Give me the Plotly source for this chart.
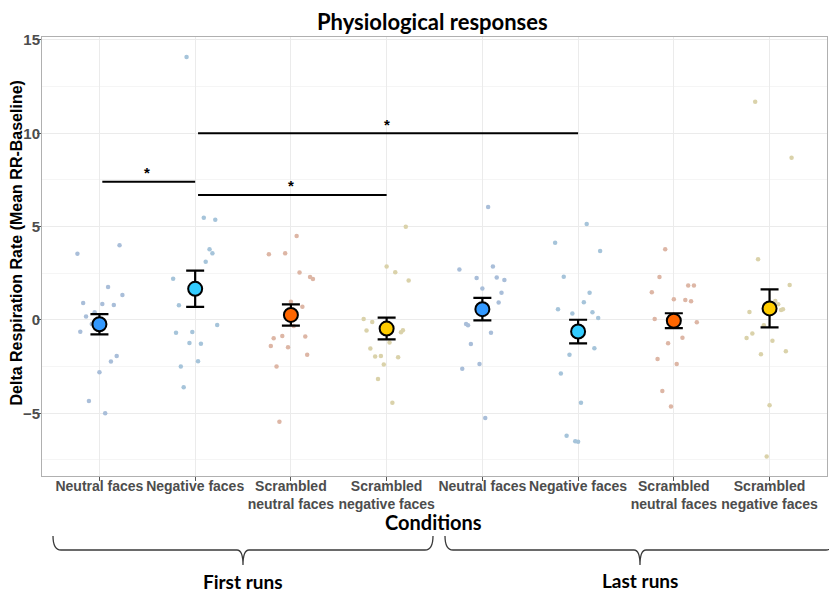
import plotly.graph_objects as go

# ---------------- data ----------------
cond_labels = ["Neutral faces", "Negative faces", "Scrambled<br>neutral faces", "Scrambled<br>negative faces",
               "Neutral faces", "Negative faces", "Scrambled<br>neutral faces", "Scrambled<br>negative faces"]
cond_pos = [1, 2, 3, 4, 5, 6, 7, 8]

mean_vals = [-0.23, 1.67, 0.27, -0.46, 0.58, -0.62, -0.04, 0.62]
sem_vals = [0.54, 0.97, 0.57, 0.58, 0.60, 0.63, 0.40, 1.02]

# individual participants (value, jitter offset)
first_neutral = [3.55, 4.0, 1.77, 0.91, 0.86, 0.80, 1.34, 0.18, 0.41, -0.21, -0.63, -1.93, -2.23, -2.80, -4.34, -5.0]
first_neutral_jit = [-0.23, 0.21, 0.09, -0.17, 0.03, 0.15, 0.24, -0.14, -0.05, -0.08, -0.20, 0.18, 0.12, 0.0, -0.11, 0.06]

first_negative = [14.09, 5.48, 5.37, 3.79, 3.57, 3.12, 2.21, 0.79, -0.27, -0.68, -0.64, -1.23, -1.27, -2.21, -2.50, -3.61]
first_negative_jit = [-0.09, 0.09, 0.21, 0.15, 0.18, 0.11, -0.23, -0.17, 0.23, -0.20, -0.03, -0.06, 0.06, 0.03, -0.15, -0.12]

first_scr_neutral = [4.50, 3.52, 3.57, 2.54, 2.30, 2.20, 0.98, 0.71, -0.32, -0.86, -0.98, -0.89, -1.39, -1.46, -1.87, -2.50, -5.46]
first_scr_neutral_jit = [0.06, -0.23, -0.06, 0.09, 0.20, 0.23, 0.0, 0.12, 0.03, -0.09, -0.18, 0.15, -0.21, -0.03, 0.17, -0.15, -0.12]

first_scr_negative = [5.0, 2.86, 2.55, 2.11, 0.05, -0.11, -0.57, -0.66, -0.55, -1.21, -1.53, -1.96, -1.93, -2.0, -2.38, -3.16, -4.43]
first_scr_negative_jit = [0.20, 0.0, 0.09, 0.23, -0.24, -0.15, -0.21, 0.15, 0.17, 0.03, -0.17, -0.12, -0.06, 0.12, -0.03, -0.09, 0.06]

last_neutral = [6.05, 2.71, 2.87, 2.25, 2.27, 2.14, 1.68, 1.46, 0.93, -0.21, -0.29, -0.68, -1.29, -2.36, -2.61, -5.25]
last_neutral_jit = [0.06, -0.24, 0.11, -0.06, 0.15, 0.23, 0.0, 0.20, 0.17, -0.17, -0.15, 0.09, -0.12, -0.03, -0.21, 0.03]

last_negative = [5.14, 4.14, 3.70, 2.32, 1.46, 0.95, 0.57, 0.34, 0.41, 0.11, -1.52, -1.87, -2.87, -4.43, -6.21, -6.50, -6.52]
last_negative_jit = [0.09, -0.24, 0.23, -0.15, 0.12, 0.06, -0.21, -0.06, 0.15, 0.21, 0.17, -0.09, -0.18, 0.03, -0.12, -0.03, 0.0]

last_scr_neutral = [3.79, 2.30, 1.48, 1.84, 1.84, 1.11, 1.07, 1.0, 0.05, -0.12, -0.95, -1.25, -2.09, -2.36, -3.80, -4.64]
last_scr_neutral_jit = [-0.09, -0.15, -0.23, 0.15, 0.21, 0.0, 0.12, 0.18, -0.20, 0.24, 0.09, -0.06, -0.17, 0.03, -0.12, -0.03]

last_scr_negative = [11.69, 8.69, 3.25, 1.87, 1.02, 0.84, 0.54, 0.57, 0.43, -0.29, -0.73, -0.96, -1.12, -1.84, -1.68, -4.57, -7.32]
last_scr_negative_jit = [-0.15, 0.23, -0.12, 0.21, 0.06, 0.09, 0.12, 0.14, -0.21, -0.06, -0.18, -0.24, 0.03, -0.09, 0.17, 0.0, -0.03]

# significance comparisons (category positions and bracket height)
sig_start = [1, 2, 2]
sig_end = [2, 6, 4]
sig_height = [7.4, 10.0, 6.7]

y_ticks = [-5, 0, 5, 10, 15]

# ---------------- styling ----------------
mean_colors = ["#3399FF", "#33CCFF", "#FF6600", "#FFCC00"] * 2
point_colors = ["#A9BED9", "#A6C4DA", "#DDB6A5", "#DAD2AA"] * 2

all_vals = [first_neutral, first_negative, first_scr_neutral, first_scr_negative,
            last_neutral, last_negative, last_scr_neutral, last_scr_negative]
all_jit = [first_neutral_jit, first_negative_jit, first_scr_neutral_jit, first_scr_negative_jit,
           last_neutral_jit, last_negative_jit, last_scr_neutral_jit, last_scr_negative_jit]

# the page has an 8px body margin: lay the figure out so page coordinates match
OX, OY = 8, 8
PAGE_W, PAGE_H = 837, 593
W, H = PAGE_W - OX, PAGE_H - OY
PL, PR, PT, PB = 42, 827, 37, 476   # panel in page pixels


def pxx(x):
    return (x - PL) / (PR - PL)


def pxy(y):
    return (PB - y) / (PB - PT)


fig = go.Figure()

for i, (vals, jit) in enumerate(zip(all_vals, all_jit)):
    fig.add_trace(go.Scatter(
        x=[cond_pos[i] + j for j in jit], y=vals, mode="markers",
        marker=dict(size=4.5, color=point_colors[i], line=dict(width=0)),
        showlegend=False, hoverinfo="y"))

fig.add_trace(go.Scatter(
    x=cond_pos, y=mean_vals, mode="markers",
    error_y=dict(type="data", array=sem_vals, color="black", thickness=2.2, width=9),
    marker=dict(size=14, color=mean_colors, line=dict(color="black", width=2)),
    showlegend=False))

shapes = []
annotations = []
for s, e, h in zip(sig_start, sig_end, sig_height):
    shapes.append(dict(type="line", xref="x", yref="y", x0=s + 0.03, x1=e, y0=h, y1=h,
                       line=dict(color="black", width=2)))
    annotations.append(dict(x=(s + e) / 2, y=h, xref="x", yref="y", text="*", showarrow=False,
                            yshift=9, font=dict(family="Liberation Sans, Arial", size=15, color="black", weight="bold")))


def brace_path(x0, x1, xm, ytop, ymid, ytip):
    r = 8
    return (f"M {pxx(x0)},{pxy(ytop)} Q {pxx(x0)},{pxy(ymid)} {pxx(x0 + r)},{pxy(ymid)} "
            f"L {pxx(xm - 6)},{pxy(ymid)} Q {pxx(xm)},{pxy(ymid)} {pxx(xm)},{pxy(ytip)} "
            f"Q {pxx(xm)},{pxy(ymid)} {pxx(xm + 6)},{pxy(ymid)} "
            f"L {pxx(x1 - r)},{pxy(ymid)} Q {pxx(x1)},{pxy(ymid)} {pxx(x1)},{pxy(ytop)}")


for x0, x1, xm in [(53, 433, 243), (445, 834, 640)]:
    shapes.append(dict(type="path", xref="paper", yref="paper", path=brace_path(x0, x1, xm, 536, 550, 565),
                       line=dict(color="#3a3a3a", width=1.3)))

calibri_like = "Lato, Carlito, Calibri, sans-serif"
annotations += [
    dict(x=pxx(432), y=pxy(21), xref="paper", yref="paper", text="Physiological responses", showarrow=False,
         font=dict(family=calibri_like, size=22, color="black", weight="bold"), xanchor="center", yanchor="middle"),
    dict(x=pxx(433), y=pxy(522), xref="paper", yref="paper", text="Conditions", showarrow=False,
         font=dict(family=calibri_like, size=20, color="black", weight="bold"), xanchor="center", yanchor="middle"),
    dict(x=pxx(243), y=pxy(581), xref="paper", yref="paper", text="First runs", showarrow=False,
         font=dict(family=calibri_like, size=19, color="black", weight="bold"), xanchor="center", yanchor="middle"),
    dict(x=pxx(640), y=pxy(580), xref="paper", yref="paper", text="Last runs", showarrow=False,
         font=dict(family=calibri_like, size=19, color="black", weight="bold"), xanchor="center", yanchor="middle"),
    dict(x=pxx(15.5), y=pxy(243), xref="paper", yref="paper", text="Delta Respiration Rate (Mean RR-Baseline)",
         showarrow=False, textangle=-90,
         font=dict(family="Liberation Sans, Arial", size=16, color="black", weight="bold"),
         xanchor="center", yanchor="middle"),
]

fig.update_layout(
    width=W, height=H,
    margin=dict(l=PL - OX, r=PAGE_W - PR, t=PT - OY, b=PAGE_H - PB, autoexpand=False),
    paper_bgcolor="white", plot_bgcolor="white",
    shapes=shapes, annotations=annotations,
    xaxis=dict(range=[0.4, 8.6], tickmode="array", tickvals=cond_pos, ticktext=cond_labels,
               showgrid=True, gridcolor="#EBEBEB", gridwidth=1, zeroline=False, automargin=False,
               showline=True, linecolor="#B0B0B0", linewidth=1, mirror=True,
               ticks="outside", ticklen=4, tickcolor="#555555", ticklabelstandoff=-7,
               tickfont=dict(family="Liberation Sans, Arial", size=14, color="#4D4D4D", weight="bold")),
    yaxis=dict(range=[-8.36, 15.16], tickmode="array", tickvals=y_ticks,
               showgrid=True, gridcolor="#EBEBEB", gridwidth=1, zeroline=False, automargin=False,
               showline=True, linecolor="#B0B0B0", linewidth=1, mirror=True,
               ticks="outside", ticklen=4, tickcolor="#555555", ticklabelstandoff=-6,
               minor=dict(tickmode="array", tickvals=[-7.5, -2.5, 2.5, 7.5, 12.5], showgrid=True,
                          gridcolor="#F5F5F5", gridwidth=1, ticklen=0),
               tickfont=dict(family="Liberation Sans, Arial", size=15, color="#4D4D4D", weight="bold")),
)

fig.write_html("out.html")
